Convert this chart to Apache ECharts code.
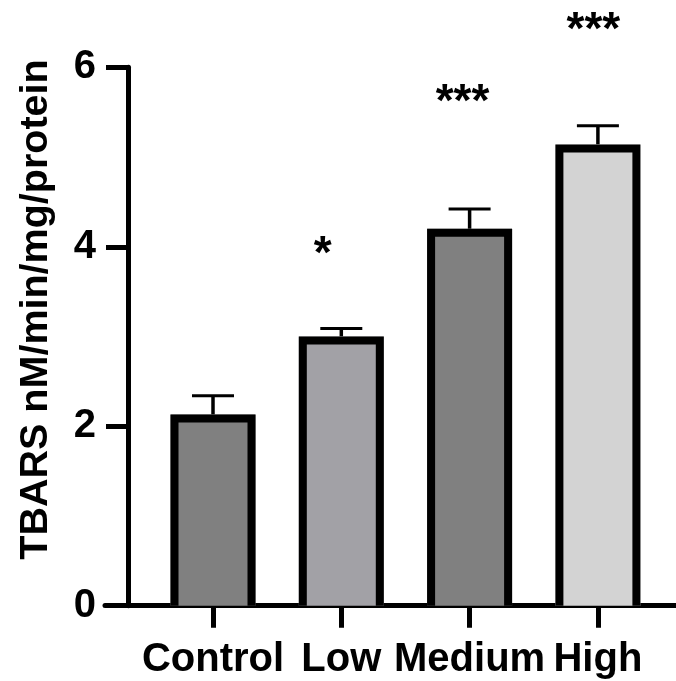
<!DOCTYPE html>
<html>
<head>
<meta charset="utf-8">
<script src="https://cdn.jsdelivr.net/npm/echarts@6/dist/echarts.min.js"></script>
<style>html,body{margin:0;padding:0;background:#fff;}#c{width:676px;height:681px;}</style>
</head>
<body>
<div id="c"></div>
<script>
const categories = ['Control', 'Low', 'Medium', 'High'];
const means = [2.13, 3.0, 4.2, 5.14];
const upper = [2.34, 3.09, 4.42, 5.35];
const barColors = ['#808080', '#a2a1a6', '#808080', '#d3d3d3'];
const sigLabels = ['*', '***', '***'];
const sigX = [0.855, 1.945, 2.965];
const sigY = [3.905, 5.6, 6.4];
const yTicks = [0, 2, 4, 6];

const FONT = "'Liberation Sans', Arial, sans-serif";
const chart = echarts.init(document.getElementById('c'), null, {renderer: 'canvas'});

const catIdx = categories.map((c, i) => i);
const BAR_W = 85, BORDER = 8;

chart.setOption({
  backgroundColor: '#fff',
  animation: false,
  grid: {left: 105, right: 0, top: 67.3, bottom: 75.3, containLabel: false},
  xAxis: {
    type: 'value',
    min: -0.8418,
    max: 3.6087,
    splitLine: {show: false},
    axisLine: {show: true, onZero: false, lineStyle: {color: '#000', width: 5}},
    axisTick: {show: true, customValues: catIdx, length: 22, lineStyle: {color: '#000', width: 5}},
    axisLabel: {
      show: true, customValues: catIdx, margin: 34,
      formatter: v => categories[Math.round(v)],
      color: '#000', fontSize: 40, fontWeight: 'bold', fontFamily: FONT
    }
  },
  yAxis: {
    type: 'value',
    min: 0, max: 6, interval: 2,
    offset: -23,
    splitLine: {show: false},
    axisLine: {show: true, onZero: false, lineStyle: {color: '#000', width: 5}},
    axisTick: {show: true, length: 22, lineStyle: {color: '#000', width: 5}},
    axisLabel: {margin: 32, color: '#000', fontSize: 40, fontWeight: 'bold', fontFamily: FONT,
      formatter: v => (yTicks.indexOf(v) >= 0 ? String(v) : '')},
    name: 'TBARS nM/min/mg/protein',
    nameLocation: 'middle',
    nameGap: 72,
    nameRotate: 90,
    nameTextStyle: {color: '#000', fontSize: 39.5, fontWeight: 'bold', fontFamily: FONT, padding: [0, 0, 0, 54]}
  },
  series: [
    {
      type: 'custom',
      data: means.map((m, i) => [i, m, upper[i]]),
      renderItem: function (params, api) {
        const x = api.value(0);
        const lo = api.coord([x, api.value(1)]);
        const hi = api.coord([x, api.value(2)]);
        const hw = 21;
        return {
          type: 'group',
          children: [
            {type: 'line', shape: {x1: lo[0], y1: lo[1], x2: hi[0], y2: hi[1]}, style: {stroke: '#000', lineWidth: 3.5}},
            {type: 'line', shape: {x1: hi[0] - hw, y1: hi[1], x2: hi[0] + hw, y2: hi[1]}, style: {stroke: '#000', lineWidth: 3}}
          ]
        };
      },
      clip: false,
      z: 1
    },
    {
      type: 'custom',
      data: means.map((m, i) => [i, m]),
      renderItem: function (params, api) {
        const i = api.value(0);
        const top = api.coord([i, api.value(1)]);
        const base = api.coord([i, 0]);
        const l = top[0] - BAR_W / 2, r = top[0] + BAR_W / 2;
        const h = BORDER / 2;
        return {
          type: 'group',
          children: [
            {type: 'rect', shape: {x: l, y: top[1], width: BAR_W, height: base[1] - top[1]},
              style: {fill: barColors[i]}},
            {type: 'polyline', shape: {points: [[l + h, base[1]], [l + h, top[1] + h], [r - h, top[1] + h], [r - h, base[1]]]},
              style: {stroke: '#000', lineWidth: BORDER, fill: null, lineJoin: 'miter'}}
          ]
        };
      },
      clip: false,
      z: 2
    },
    {
      type: 'scatter',
      symbolSize: 0,
      clip: false,
      itemStyle: {opacity: 1},
      data: sigLabels.map((s, i) => ({value: [sigX[i], sigY[i]], name: s})),
      label: {
        show: true, position: 'inside',
        formatter: p => p.name,
        color: '#000', opacity: 1, textBorderWidth: 0,
        fontSize: 46, fontFamily: FONT, fontWeight: 'bold'
      },
      z: 3
    }
  ]
});
</script>
</body>
</html>
